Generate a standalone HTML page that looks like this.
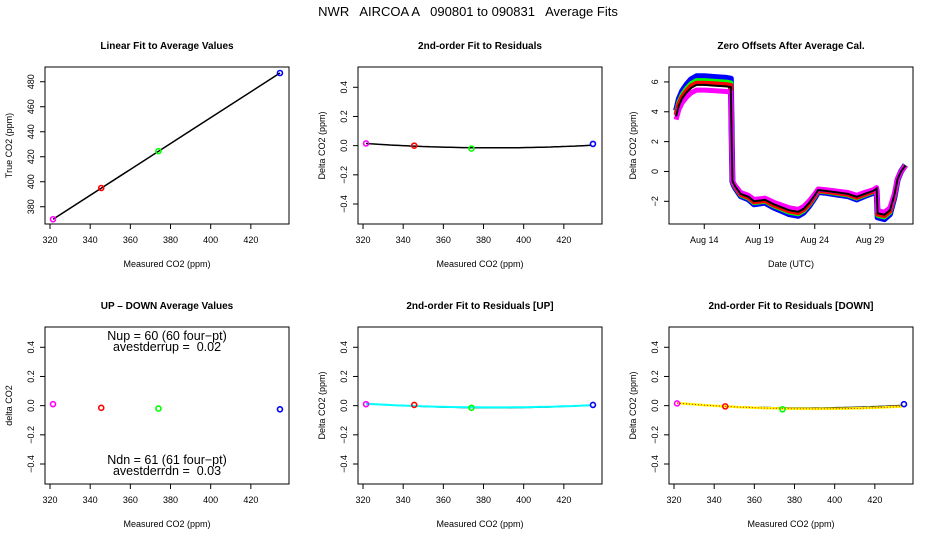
<!DOCTYPE html>
<html><head><meta charset="utf-8">
<style>
html,body{margin:0;padding:0;background:#fff;}
svg{display:block;font-family:"Liberation Sans",Arial,sans-serif;}
text{white-space:pre;}
</style></head>
<body>
<svg id="c" width="936" height="540" viewBox="0 0 936 540">
<text x="468" y="16" text-anchor="middle" font-size="13">NWR   AIRCOA A   090801 to 090831   Average Fits</text>
</svg>
<script>
// ---- data ----
const calX = [321.5, 345.5, 374, 434.5];
const calColors = ['#ff00ff', '#ff0000', '#00ff00', '#0000ff'];
const trueY = [370, 395, 424.5, 487];
const residY = [0.015, 0.0, -0.02, 0.012];
const upDownY = [0.01, -0.015, -0.02, -0.025];
const residUpY = [0.01, 0.005, -0.015, 0.005];
const residDnY = [0.015, -0.005, -0.025, 0.01];
const fitQuad = [385, -0.015, 0.0000074];       // center, min, curvature
const fitQuadUp = [385, -0.012, 0.0000062];
const fitQuadDn = [390, -0.022, 0.0000085];
const tsDays = [11.45,11.7,12.0,12.4,12.8,13.3,14.0,15.0,16.0,16.4,16.55,16.65,16.8,17.3,18.0,18.5,19.5,20.3,21.0,21.7,22.5,23.0,23.5,24.0,24.3,25.0,26.0,27.0,27.8,28.5,29.3,29.6,29.7,30.3,30.8,31.2,31.5,31.8,32.2];
const tsBase = [3.7,4.4,4.9,5.3,5.6,5.8,5.8,5.75,5.7,5.65,-0.6,-0.8,-1.0,-1.5,-1.7,-2.0,-1.9,-2.2,-2.4,-2.6,-2.7,-2.5,-2.1,-1.6,-1.25,-1.3,-1.4,-1.5,-1.7,-1.5,-1.3,-1.15,-2.8,-2.9,-2.6,-1.6,-0.5,0.0,0.4];
const tsFactor = [0.1, 0.05, 0.02, -0.06];      // blue, green, red, magenta
const tsFactorColors = ['#0000ff', '#00ff00', '#ff0000', '#ff00ff'];
const xTicks = [320, 340, 360, 380, 400, 420];
const yTicksLin = [380, 400, 420, 440, 460, 480];
const yTicksRes = [-0.4, -0.2, 0.0, 0.2, 0.4];
const yTicksRes_labels = ['\u22120.4', '\u22120.2', '0.0', '0.2', '0.4'];
const yTicksTs = [-2, 0, 2, 4, 6];
const yTicksTs_labels = ['\u22122', '0', '2', '4', '6'];
const dateTicks = [14, 19, 24, 29];
const dateTick_labels = ['Aug 14', 'Aug 19', 'Aug 24', 'Aug 29'];

const NS = 'http://www.w3.org/2000/svg';
const svg = document.getElementById('c');
function mk(tag, attrs, parent) {
  const e = document.createElementNS(NS, tag);
  for (const k in attrs) e.setAttribute(k, attrs[k]);
  (parent || svg).appendChild(e);
  return e;
}
function panel(name, box, xlim, ylim, title, xlab, ylab, xt, xtl, yt, ytl) {
  const g = mk('g', {});
  
  
  const [x0, y0, x1, y1] = box;
  const sx = v => x0 + (v - xlim[0]) / (xlim[1] - xlim[0]) * (x1 - x0);
  const sy = v => y1 - (v - ylim[0]) / (ylim[1] - ylim[0]) * (y1 - y0);
  const r = mk('rect', {x: x0, y: y0, width: x1 - x0, height: y1 - y0, fill: 'none', stroke: '#000', 'stroke-width': 1}, g);
  
  
  const t = mk('text', {x: (x0 + x1) / 2, y: y0 - 18, 'text-anchor': 'middle', 'font-size': 10, 'font-weight': 'bold'}, g);
  t.textContent = title;
  
  
  const xl = mk('text', {x: (x0 + x1) / 2, y: y1 + 43, 'text-anchor': 'middle', 'font-size': 9}, g);
  xl.textContent = xlab;
  
  
  const yl = mk('text', {x: 0, y: 0, 'text-anchor': 'middle', 'font-size': 9, transform: `translate(${x0 - 33},${(y0 + y1) / 2}) rotate(-90)`}, g);
  yl.textContent = ylab;
  
  
  xt.forEach((v, i) => {
    const px = sx(v);
    mk('line', {x1: px, x2: px, y1: y1, y2: y1 + 5, stroke: '#000'}, g);
    const tl = mk('text', {x: px, y: y1 + 19, 'text-anchor': 'middle', 'font-size': 9}, g);
    tl.textContent = xtl[i];
    
    
  });
  yt.forEach((v, i) => {
    const py = sy(v);
    mk('line', {x1: x0 - 5, x2: x0, y1: py, y2: py, stroke: '#000'}, g);
    const tl = mk('text', {x: 0, y: 0, 'text-anchor': 'middle', 'font-size': 9, transform: `translate(${x0 - 11},${py}) rotate(-90)`}, g);
    tl.textContent = ytl[i];
    
    
  });
  return {g, sx, sy};
}
function points(p, xs, ys) {
  xs.forEach((v, i) => {
    const c = mk('circle', {cx: p.sx(v), cy: p.sy(ys[i]), r: 2.5, fill: 'none', stroke: calColors[i], 'stroke-width': 1.6}, p.g);
    
    
  });
}
function quadLine(p, q, color, w, dash) {
  let d = '';
  for (let x = calX[0]; x <= calX[3] + 0.01; x += 2) {
    const y = q[1] + q[2] * (x - q[0]) * (x - q[0]);
    d += (d ? 'L' : 'M') + p.sx(x).toFixed(1) + ',' + p.sy(y).toFixed(1);
  }
  const a = {d: d, fill: 'none', stroke: color, 'stroke-width': w};
  if (dash) a['stroke-dasharray'] = dash;
  const l = mk('path', a, p.g);
  
  
}
const xl = [317.5, 439];
const xtl = xTicks.map(String);
const resLim = [-0.537, 0.539];

// Panel 1
const p1 = panel('linear-fit-panel', [45, 67, 289, 224], xl, [366.2, 491.8], 'Linear Fit to Average Values', 'Measured CO2 (ppm)', 'True CO2 (ppm)', xTicks, xtl, yTicksLin, yTicksLin.map(String));
{
  const slope = (trueY[3] - trueY[0]) / (calX[3] - calX[0]);
  const l = mk('line', {x1: p1.sx(calX[0]), y1: p1.sy(trueY[0]), x2: p1.sx(calX[3]), y2: p1.sy(trueY[0] + slope * (calX[3] - calX[0])), stroke: '#000', 'stroke-width': 1.5}, p1.g);
  
  
  points(p1, calX, trueY);
}
// Panel 2
const p2 = panel('residual-fit-panel', [358, 67, 602, 224], xl, resLim, '2nd-order Fit to Residuals', 'Measured CO2 (ppm)', 'Delta CO2 (ppm)', xTicks, xtl, yTicksRes, yTicksRes_labels);
quadLine(p2, fitQuad, '#000', 1.5);
points(p2, calX, residY);
// Panel 3
const p3 = panel('zero-offsets-panel', [669, 67, 913, 224], [10.81, 32.89], [-3.52, 7.0], 'Zero Offsets After Average Cal.', 'Date (UTC)', 'Delta CO2 (ppm)', dateTicks, dateTick_labels, yTicksTs, yTicksTs_labels);
tsFactor.forEach((f, k) => {
  let d = '';
  tsDays.forEach((t, i) => { d += (i ? 'L' : 'M') + p3.sx(t).toFixed(1) + ',' + p3.sy(tsBase[i] * (1 + f)).toFixed(1); });
  const l = mk('path', {d: d, fill: 'none', stroke: tsFactorColors[k], 'stroke-width': k === 0 ? 6 : 5, 'stroke-linejoin': 'round'}, p3.g);
  
  
});
{
  let d = '';
  tsDays.forEach((t, i) => { d += (i ? 'L' : 'M') + p3.sx(t).toFixed(1) + ',' + p3.sy(tsBase[i]).toFixed(1); });
  const l = mk('path', {d: d, fill: 'none', stroke: '#000', 'stroke-width': 2}, p3.g);
  
  
}
// Panel 4
const p4 = panel('up-down-panel', [45, 327, 289, 484], xl, resLim, 'UP \u2013 DOWN Average Values', 'Measured CO2 (ppm)', 'delta CO2', xTicks, xtl, yTicksRes, yTicksRes_labels);
points(p4, calX, upDownY);
[['Nup = 60 (60 four\u2212pt)', 340], ['avestderrup =  0.02', 351], ['Ndn = 61 (61 four\u2212pt)', 464], ['avestderrdn =  0.03', 475]].forEach(s => {
  const t = mk('text', {x: 167, y: s[1], 'text-anchor': 'middle', 'font-size': 12.5}, p4.g);
  t.textContent = s[0];
  
  
});
// Panel 5
const p5 = panel('residual-up-panel', [358, 327, 602, 484], xl, resLim, '2nd-order Fit to Residuals [UP]', 'Measured CO2 (ppm)', 'Delta CO2 (ppm)', xTicks, xtl, yTicksRes, yTicksRes_labels);
quadLine(p5, fitQuad, '#000', 1.2);
quadLine(p5, fitQuadUp, '#00ffff', 2);
points(p5, calX, residUpY);
// Panel 6
const p6 = panel('residual-down-panel', [669, 327, 913, 484], xl, resLim, '2nd-order Fit to Residuals [DOWN]', 'Measured CO2 (ppm)', 'Delta CO2 (ppm)', xTicks, xtl, yTicksRes, yTicksRes_labels);
quadLine(p6, fitQuad, '#000', 1.2);
quadLine(p6, fitQuadDn, '#ffff00', 2.5);
quadLine(p6, fitQuadDn, '#ff0000', 1, '1 2');
points(p6, calX, residDnY);
</script>
</body></html>
